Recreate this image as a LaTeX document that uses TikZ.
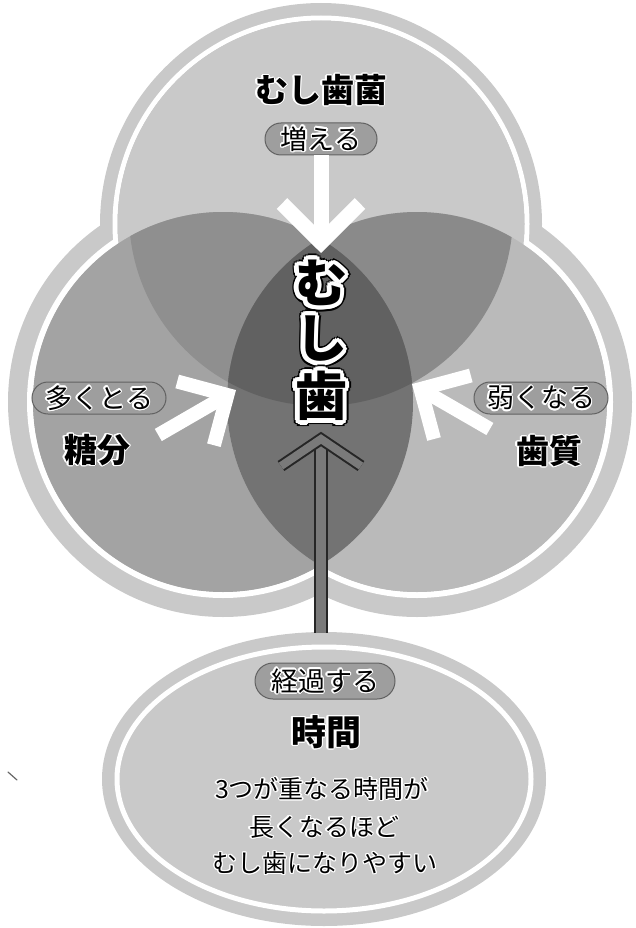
\documentclass[tikz,border=0pt]{standalone}
\usepackage{fontspec}
\newfontfamily\jp{Noto Sans CJK JP}
\newlength\hlr
\newcommand\hcp[3]{\rlap{\kern#1\hlr\raisebox{#2\hlr}{#3}}}
\newcommand\halocp[3]{\setlength\hlr{#2}%
\hcp{1}{0}{\color{#1}#3}\hcp{0.924}{0.383}{\color{#1}#3}\hcp{0.707}{0.707}{\color{#1}#3}\hcp{0.383}{0.924}{\color{#1}#3}%
\hcp{0}{1}{\color{#1}#3}\hcp{-0.383}{0.924}{\color{#1}#3}\hcp{-0.707}{0.707}{\color{#1}#3}\hcp{-0.924}{0.383}{\color{#1}#3}%
\hcp{-1}{0}{\color{#1}#3}\hcp{-0.924}{-0.383}{\color{#1}#3}\hcp{-0.707}{-0.707}{\color{#1}#3}\hcp{-0.383}{-0.924}{\color{#1}#3}%
\hcp{0}{-1}{\color{#1}#3}\hcp{0.383}{-0.924}{\color{#1}#3}\hcp{0.707}{-0.707}{\color{#1}#3}\hcp{0.924}{-0.383}{\color{#1}#3}}
\newcommand\halo[2]{\halocp{white}{#1}{#2}#2}
\newcommand\dhalo[1]{\halocp{black}{6pt}{#1}\halocp{white}{4.3pt}{#1}#1}
\begin{document}
\begin{tikzpicture}[x=1pt,y=-1pt,
  base/.style={fill=black!21},
  ring/.style={draw=white,line width=6pt},
  warr/.style={draw=white,line width=14pt,line join=miter,line cap=butt},
  pill/.style={rounded corners=16pt,fill=black!38,draw=black!62,line width=1pt,minimum height=32pt,inner sep=0pt,font=\jp\fontsize{27pt}{27pt}\selectfont},
  ttl/.style={inner sep=0pt,font=\jp\bfseries\fontsize{33pt}{33pt}\selectfont},
  bigc/.style={inner sep=0pt,font=\jp\bfseries\fontsize{52pt}{52pt}\selectfont},
  body/.style={inner sep=0pt,font=\jp\fontsize{25pt}{25pt}\selectfont}]
\useasboundingbox (0,0) rectangle (636,928);
% centres
\coordinate (cT) at (321,224);
\coordinate (cTi) at (321,214);
\coordinate (cL) at (223,402);
\coordinate (cR) at (417,402);
\coordinate (cE) at (324,779);
% outer light shapes
\fill[base] (cT) circle[radius=221pt] (cL) circle[radius=215pt] (cR) circle[radius=215pt]
  (cE) ellipse[x radius=222pt,y radius=147pt];
% white gap rings
\draw[ring,line width=5pt] (cT) circle[radius=206pt];
\draw[ring] (cL) circle[radius=193pt];
\draw[ring] (cR) circle[radius=193pt];
\draw[ring,line width=5pt] (cE) ellipse[x radius=207pt,y radius=132pt];
% interior of top circle
\fill[base] (cT) circle[radius=203.5pt];
% inner disks
\fill[black!36] (cL) circle[radius=190pt];
\fill[black!27] (cR) circle[radius=190pt];
\begin{scope}
  \clip (cTi) circle[radius=192pt];
  \fill[black!44] (cL) circle[radius=190pt];
  \fill[black!46] (cR) circle[radius=190pt];
\end{scope}
\begin{scope}
  \clip (cL) circle[radius=190pt];
  \fill[black!55] (cR) circle[radius=190pt];
  \clip (cTi) circle[radius=192pt];
  \fill[black!62] (cR) circle[radius=190pt];
\end{scope}
% stem arrow from time ellipse
\coordinate (stemB) at (321,633);
\coordinate (stemT) at (321,439);
\coordinate (chL) at (281,466);
\coordinate (chR) at (361,466);
\draw[line width=14pt,black!85] (stemB) -- (stemT);
\draw[line width=10pt,black!52] (stemB) -- (stemT);
\draw[line width=12pt,black!85,line join=miter] (chL) -- (stemT) -- (chR);
\draw[line width=8pt,black!52,line join=miter] (chL) -- (stemT) -- (chR);
% top labels
\node[ttl] (tBac) at (321,90) {\halo{1.2pt}{むし歯菌}};
\node[pill,minimum width=112pt] (pUp) at (321,139) {\halo{1.4pt}{増える}};
% top white arrow
\coordinate (upC) at (321,242.4);
\coordinate (upA) at (282,203.5);
\coordinate (upB) at (360,203.5);
\draw[warr,line width=15pt] (pUp.south) -- (upC);
\draw[warr,line width=15pt] (upA) -- (upC) -- (upB);
% left white arrow
\coordinate (laC) at (227.4,395);
\coordinate (laA) at (177.2,381.5);
\coordinate (laB) at (213.9,445.2);
\coordinate (laS) at (158.3,435);
\draw[warr] (laS) -- (laC);
\draw[warr] (laA) -- (laC) -- (laB);
% right white arrow
\coordinate (raC) at (420.6,389);
\coordinate (raA) at (470.8,375.5);
\coordinate (raB) at (434,439);
\coordinate (raS) at (489.9,429);
\draw[warr] (raS) -- (raC);
\draw[warr] (raA) -- (raC) -- (raB);
% side labels
\node[pill,minimum width=134pt] (pL) at (99,398) {\halo{1.4pt}{多くとる}};
\node[ttl] (tSug) at (97,450) {\halo{1.2pt}{糖分}};
\node[pill,minimum width=134pt] (pR) at (541,398) {\halo{1.4pt}{弱くなる}};
\node[ttl] (tTooth) at (549,451) {\halo{1.2pt}{歯質}};
% central big text
\node[bigc] (mu) at (321,283) {\dhalo{む}};
\node[bigc] (shi) at (321,339) {\dhalo{し}};
\node[bigc] (ha) at (321,396) {\dhalo{歯}};
% time ellipse texts
\node[pill,minimum width=140pt,minimum height=36pt,rounded corners=18pt] (pTime) at (325,681) {\halo{1.4pt}{経過する}};
\node[ttl,font=\jp\bfseries\fontsize{35pt}{35pt}\selectfont] (tTime) at (326,732) {\halo{1.2pt}{時間}};
\node[body] (b1) at (322,789) {\halo{1.1pt}{3つが重なる時間が}};
\node[body] (b2) at (324,827) {\halo{1.1pt}{長くなるほど}};
\node[body] (b3) at (325,863) {\halo{1.1pt}{むし歯になりやすい}};
% stray mark
\draw[black!60,line width=1.2pt,line cap=round] (8,772) -- (17,780);
\end{tikzpicture}
\end{document}
